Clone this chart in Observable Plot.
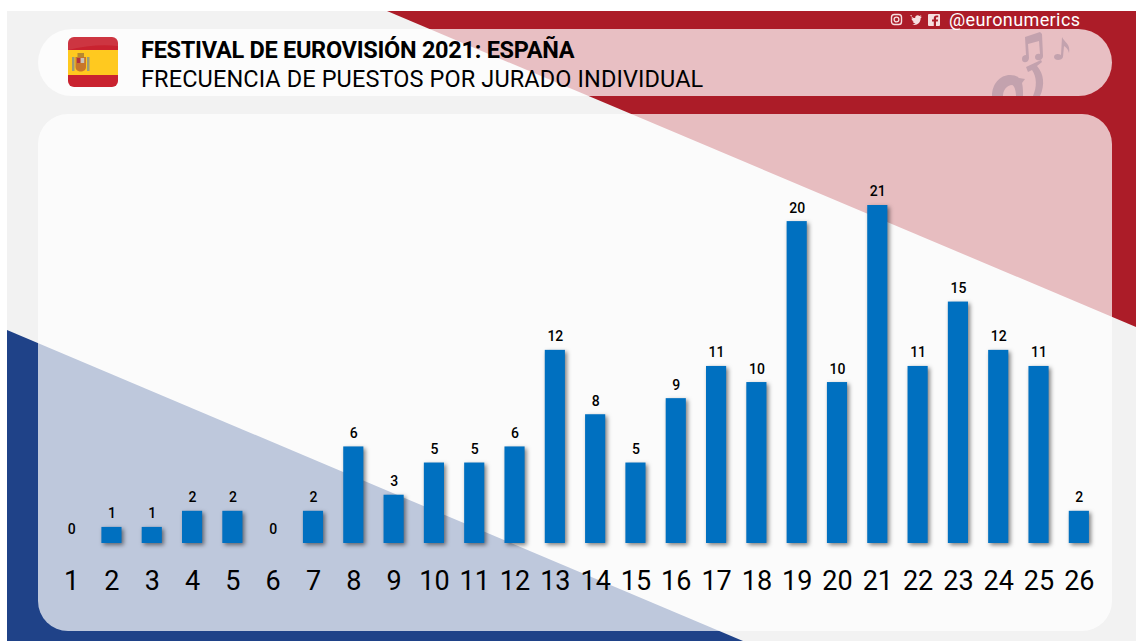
<!DOCTYPE html>
<html lang="es">
<head>
<meta charset="utf-8">
<script src="https://cdn.jsdelivr.net/npm/d3@7"></script>
<script src="https://cdn.jsdelivr.net/npm/@observablehq/plot@0.6"></script>
<style>
html,body{margin:0;padding:0;background:#fff;width:1136px;height:641px;overflow:hidden;font-family:Roboto,sans-serif}
.layer{position:absolute}
#bg{left:7px;top:11px;width:1129px;height:630px;background:#f2f2f2;overflow:hidden}
#red{left:387px;top:11px;width:749px;height:316px;background:#ac1c28;clip-path:polygon(0 0,100% 0,100% 100%)}
#blue{left:7px;top:330px;width:736px;height:311px;background:#1f4288;clip-path:polygon(0 0,100% 100%,0 100%)}
#hd{left:38px;top:29px;width:1074px;height:67px;border-radius:33.5px;background:rgba(255,255,255,.72);overflow:hidden}
#panel{left:38px;top:114px;width:1074px;height:517px;border-radius:30px;background:rgba(255,255,255,.71)}
#notes{left:950px;top:0;position:absolute}
#flag{left:68px;top:37px;width:50px;height:50px;border-radius:6px;overflow:hidden;background:linear-gradient(#c9222f 0 26%,#ffc91f 26% 75%,#c9222f 75%)}
h1,h2{position:absolute;margin:0;left:141px;color:#000;white-space:nowrap;font-size:23.5px;line-height:28px}
h1{top:36px;font-weight:700;letter-spacing:-.27px}
h2{top:65px;font-weight:400;letter-spacing:.11px}
#handle{left:949px;top:10px;color:#fff;font-size:18px;line-height:20px;letter-spacing:.4px;white-space:nowrap}
#icons{left:890px;top:12px}
#chart{left:0;top:0}
#chart g[aria-label="bar"]{filter:drop-shadow(2px 2px 2px rgba(0,0,0,.5))}
</style>
</head>
<body>
<div id="bg" class="layer"></div>
<div id="red" class="layer"></div>
<div id="blue" class="layer"></div>
<div id="hd" class="layer">
  <svg id="notes" width="94" height="67" viewBox="0 0 94 67" fill="rgba(110,95,125,.3)">
    <path d="M37 8 L52 3 L54 5 L55 27 C55 32 47 33 47 28 C47 25 50 24 52 25 L51 12 L40 15 L41 29 C41 34 34 35 34 30 C34 27 36 26 38 26 Z"/>
    <path d="M73 26 L74 8 C76 13 83 15 81 24 C80 20 78 18 76 17 L75 28 C74 32 66 32 66 28 C66 25 70 24 73 26 Z"/>
    <path d="M38 38 L53 31 L54 33 L49 37 C56 45 57 56 52 67 L45 67 C49 58 49 48 44 41 L40 43 Z"/>
    <path d="M4 67 C4 55 12 46 22 46 C26 46 29 47 31 49 L37 50 L34 54 C35 58 35 62 35 67 L28 67 C28 61 26 56 24 56 C19 56 15 61 15 67 Z"/>
  </svg>
</div>
<div id="panel" class="layer"></div>
<div id="flag" class="layer">
  <svg width="50" height="50" viewBox="0 0 50 50">
    <path d="M0 0H50V9C34 7 16 9 0 13Z" fill="rgba(255,255,255,.09)"/>
    <rect x="4" y="20" width="2.5" height="14" fill="#9b9b7a"/>
    <rect x="19" y="20" width="2.5" height="14" fill="#9b9b7a"/>
    <path d="M7.5 20 H18 V30 C18 36 7.5 36 7.5 30 Z" fill="#c8762a"/>
    <rect x="9" y="21" width="3.6" height="5" fill="#b5303a"/>
    <rect x="12.6" y="21" width="3.6" height="5" fill="#c9c3b8"/>
    <rect x="9.5" y="16" width="6.5" height="4" fill="#b8892f"/>
  </svg>
</div>
<h1>FESTIVAL DE EUROVISIÓN 2021: ESPAÑA</h1>
<h2>FRECUENCIA DE PUESTOS POR JURADO INDIVIDUAL</h2>
<svg id="icons" class="layer" width="52" height="15" viewBox="0 0 52 15">
  <rect x="1.5" y="2.5" width="10" height="10" rx="2.8" fill="none" stroke="#f6dfe0" stroke-width="1.4"/>
  <circle cx="6.5" cy="7.5" r="2.4" fill="none" stroke="#f6dfe0" stroke-width="1.3"/>
  <path d="M21 4.5c1.5 1.6 3.2 2.5 5.2 2.6-.4-2.4 2.6-3.9 4.2-2.2l2-.6-1.1 1.8 1.7-.4-1.4 1.5c.2 4.2-3.6 7.8-8.4 6.4 1.3 0 2.4-.4 3.3-1.1-1.5-.1-2.4-.9-2.8-2l1.3-.1c-1.6-.5-2.4-1.5-2.5-2.9l1.3.3c-1.4-1-1.6-2.4-.8-3.8z" transform="translate(-1,-1)" fill="#f6dfe0"/>
  <path d="M39 2h10a1 1 0 0 1 1 1v10a1 1 0 0 1-1 1h-3v-4.5h1.8l.3-2H46V6.3c0-.6.3-1 1-1h1.2V3.5h-1.7c-1.9 0-2.7 1.2-2.7 2.7v1.3H42v2h1.8V14H39a1 1 0 0 1-1-1V3a1 1 0 0 1 1-1z" fill="#f6dfe0"/>
</svg>
<div id="handle" class="layer">@euronumerics</div>
<div id="chart" class="layer"></div>
<script>
const puestos = d3.range(1, 27);
const frecuencias = [0,1,1,2,2,0,2,6,3,5,5,6,12,8,5,9,11,10,20,10,21,11,15,12,11,2];
const tabla = puestos.map((p, i) => ({puesto: p, n: frecuencias[i]}));

const chart = Plot.plot({
  width: 1136,
  height: 641,
  marginTop: 205,
  marginBottom: 98,
  marginLeft: 51,
  marginRight: 37,
  style: {background: "transparent", fontFamily: "Roboto, sans-serif", color: "#000", overflow: "visible"},
  x: {type: "band", domain: puestos, paddingInner: 0.5, paddingOuter: 0.25, round: false, axis: null, label: null},
  y: {domain: [0, 21], axis: null, label: null},
  marks: [
    Plot.barY(tabla, {x: "puesto", y: "n", fill: "#0070c0"}),
    Plot.text(tabla, {x: "puesto", y: "n", text: d => String(d.n), dy: -13.5, fontSize: 14, fontWeight: 500, fill: "#000"}),
    Plot.axisX({domain: puestos, anchor: "bottom", tickSize: 0, tickPadding: 27, fontSize: 27, fontWeight: 400, fill: "#000", label: null, tickFormat: d => String(d)})
  ]
});
document.getElementById("chart").appendChild(chart);
</script>
</body>
</html>
